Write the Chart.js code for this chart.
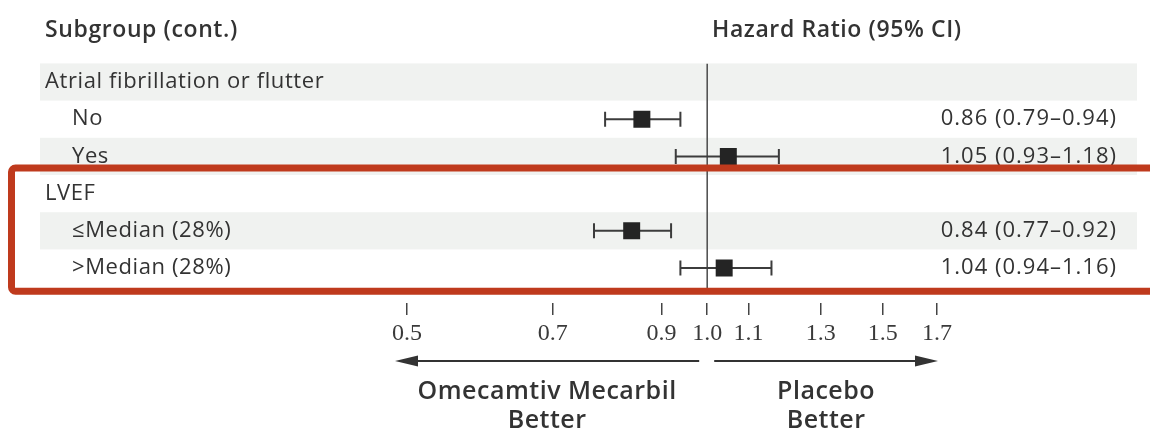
<!DOCTYPE html>
<html>
<head>
<meta charset="utf-8">
<title>Hazard Ratio by Subgroup</title>
<script src="https://cdn.jsdelivr.net/npm/chart.js@4/dist/chart.umd.min.js"></script>
<style>
    body { margin: 0; background: #fff; }
    canvas { display: block; }
</style>
</head>
<body>
<canvas id="forestChart" width="1150" height="430"></canvas>
<script>
// Rows of the table, top to bottom
const subgroups = ['Atrial fibrillation or flutter', 'No', 'Yes', 'LVEF', '≤Median (28%)', '>Median (28%)'];
const indented = [false, true, true, false, true, true];
const hazardRatio = [null, 0.86, 1.05, null, 0.84, 1.04];
const ciLower = [null, 0.79, 0.93, null, 0.77, 0.94];
const ciUpper = [null, 0.94, 1.18, null, 0.92, 1.16];

// Axis ticks
const tickValues = [0.5, 0.7, 0.9, 1.0, 1.1, 1.3, 1.5, 1.7];
const tickLabels = ['0.5', '0.7', '0.9', '1.0', '1.1', '1.3', '1.5', '1.7'];

const TEXT = '#333333';
const SANS = '"Open Sans", "Noto Sans", sans-serif';
const highlightRows = [3, 5]; // first and last row inside the red box

// Build datasets
const boxData = [];
const whiskerSets = [];
subgroups.forEach((name, i) => {
    if (hazardRatio[i] == null) return;
    boxData.push({ x: hazardRatio[i], y: i });
    whiskerSets.push({
        data: [{ x: ciLower[i], y: i }, { x: ciUpper[i], y: i }],
        showLine: true,
        borderColor: '#3c3c3c',
        borderWidth: 2,
        pointStyle: 'line',
        rotation: 90,
        pointRadius: 7.5,
        pointBorderWidth: 2,
        pointBorderColor: '#3c3c3c',
        order: 1
    });
});

const datasets = [
    {
        data: boxData,
        pointStyle: 'rect',
        pointRadius: 12,
        backgroundColor: '#242424',
        borderColor: '#242424',
        borderWidth: 0,
        order: 0
    },
    ...whiskerSets,
    {
        // line of no effect
        data: [{ x: 1, y: -0.5 }, { x: 1, y: 5.65 }],
        showLine: true,
        borderColor: '#4a4a4a',
        borderWidth: 1.5,
        pointRadius: 0,
        order: 2
    }
];

function arrow(ctx, x0, x1, y) {
    const dir = Math.sign(x1 - x0);
    ctx.beginPath();
    ctx.moveTo(x0, y);
    ctx.lineTo(x1 - dir * 10, y);
    ctx.stroke();
    ctx.beginPath();
    ctx.moveTo(x1, y);
    ctx.lineTo(x1 - dir * 23, y - 5.5);
    ctx.lineTo(x1 - dir * 23, y + 5.5);
    ctx.closePath();
    ctx.fill();
}

const tablePlugin = {
    id: 'tablePlugin',
    beforeDatasetsDraw(chart) {
        const ctx = chart.ctx;
        const y = chart.scales.y;
        ctx.save();
        ctx.fillStyle = '#f0f2f0';
        subgroups.forEach((name, i) => {
            if (i % 2 !== 0) return;
            const top = y.getPixelForValue(i - 0.5);
            const bottom = y.getPixelForValue(i + 0.5);
            ctx.fillRect(40, top, 1097, bottom - top);
        });
        ctx.restore();
    },
    afterDraw(chart) {
        const ctx = chart.ctx;
        const x = chart.scales.x;
        const y = chart.scales.y;
        ctx.save();
        ctx.fillStyle = TEXT;
        ctx.textBaseline = 'middle';

        // headers
        ctx.font = '600 23px ' + SANS;
        ctx.letterSpacing = '0.6px';
        ctx.textAlign = 'left';
        ctx.fillText('Subgroup (cont.)', 45, 30);
        ctx.fillText('Hazard Ratio (95% CI)', 712, 30);

        // row labels and values
        ctx.font = '22px ' + SANS;
        subgroups.forEach((name, i) => {
            const py = y.getPixelForValue(i);
            ctx.textAlign = 'left';
            ctx.letterSpacing = '0.6px';
            ctx.fillText(name, indented[i] ? 72 : 45, py);
            if (hazardRatio[i] != null) {
                ctx.textAlign = 'right';
                ctx.letterSpacing = '1px';
                const txt = hazardRatio[i].toFixed(2) + ' (' + ciLower[i].toFixed(2) + '–' + ciUpper[i].toFixed(2) + ')';
                ctx.fillText(txt, 1117, py);
            }
        });

        // arrows below the axis
        const xLo = x.getPixelForValue(0.5) - 12;
        const xOne = x.getPixelForValue(1);
        const xHi = x.getPixelForValue(1.7) + 1;
        ctx.strokeStyle = TEXT;
        ctx.lineWidth = 2;
        arrow(ctx, xOne - 8, xLo, 361);
        arrow(ctx, xOne + 7, xHi, 361);

        ctx.font = '600 25px ' + SANS;
        ctx.letterSpacing = '0.5px';
        ctx.textAlign = 'center';
        const leftMid = (xLo + xOne - 8) / 2;
        const rightMid = (xOne + 7 + xHi) / 2;
        ctx.fillText('Omecamtiv Mecarbil', leftMid, 392);
        ctx.fillText('Better', leftMid, 421);
        ctx.fillText('Placebo', rightMid, 392);
        ctx.fillText('Better', rightMid, 421);

        // highlight box around the LVEF rows
        const boxTop = y.getPixelForValue(highlightRows[0] - 0.5) - 7;
        const boxBottom = y.getPixelForValue(highlightRows[1] + 0.5) + 4.5;
        ctx.strokeStyle = '#bf3a1d';
        ctx.lineWidth = 7;
        ctx.beginPath();
        ctx.roundRect(11.5, boxTop, 1150, boxBottom - boxTop, 4);
        ctx.stroke();
        ctx.restore();
    }
};

new Chart(document.getElementById('forestChart'), {
    type: 'scatter',
    data: { datasets: datasets },
    options: {
        responsive: false,
        animation: false,
        layout: {
            padding: { left: 407, right: 213, top: 63.4, bottom: 0 }
        },
        plugins: {
            legend: { display: false },
            tooltip: { enabled: false }
        },
        scales: {
            x: {
                type: 'logarithmic',
                min: 0.5,
                max: 1.7,
                afterBuildTicks: (scale) => {
                    scale.ticks = tickValues.map(v => ({ value: v }));
                },
                afterFit: (scale) => {
                    scale.height = 127;
                },
                border: { display: false },
                grid: {
                    drawOnChartArea: false,
                    drawTicks: true,
                    tickLength: 12,
                    color: '#444',
                    lineWidth: 1.5
                },
                ticks: {
                    autoSkip: false,
                    maxRotation: 0,
                    padding: 4,
                    color: '#3a3a3a',
                    font: { family: '"Liberation Serif", serif', size: 24 },
                    callback: (value, index) => tickLabels[index]
                }
            },
            y: {
                type: 'linear',
                reverse: true,
                min: -0.5,
                max: 5.94,
                display: false
            }
        }
    },
    plugins: [tablePlugin]
});
</script>
</body>
</html>
